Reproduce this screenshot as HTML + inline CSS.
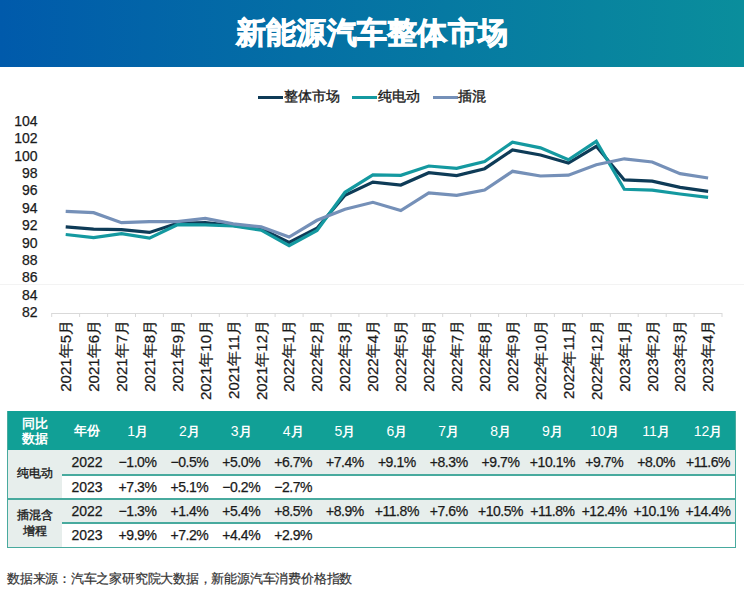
<!DOCTYPE html>
<html><head><meta charset="utf-8"><style>
html,body{margin:0;padding:0;background:#fff;width:744px;height:599px;overflow:hidden;position:relative;font-family:"Liberation Sans",sans-serif;color:#1a1a1a}
.hdr{position:absolute;left:0;top:0;width:744px;height:67px;background:linear-gradient(90deg,#005aab,#0a8e9c)}
.title{position:absolute;left:0;top:0;width:744px;height:67px;line-height:65px;text-align:center;color:#fff;font-size:30px;font-weight:bold;letter-spacing:0.25px;-webkit-text-stroke:0.9px #fff}
.leg{position:absolute;top:87px;height:18px;line-height:18px;font-size:14px;color:#1a1a1a;-webkit-text-stroke:0.35px #1a1a1a}
.leg i{position:absolute;top:9px;width:25px;height:3px}
svg{position:absolute;left:0;top:0}
.yl{font-size:14px;fill:#1a1a1a;stroke:#1a1a1a;stroke-width:0.25px}
.xl{font-size:15px;fill:#1a1a1a;stroke:#1a1a1a;stroke-width:0.25px}
.hd{font-weight:normal;font-size:14px}
.h{position:absolute;text-align:center;color:#fff;font-size:13px;font-weight:bold}
.p{letter-spacing:-0.45px}
.c{position:absolute;text-align:center;font-size:14px;color:#1a1a1a;white-space:nowrap;-webkit-text-stroke:0.25px #1a1a1a}
.b{position:absolute;text-align:center;font-size:12px;color:#1a1a1a;-webkit-text-stroke:0.35px #1a1a1a}
.foot{position:absolute;left:7px;top:570px;font-size:13px;letter-spacing:-0.22px;color:#333;-webkit-text-stroke:0.2px #333;line-height:18px}
</style></head><body>
<div class="hdr"></div>
<div class="title">新能源汽车整体市场</div>
<div class="leg" style="left:258px"><i style="left:0;background:#0e3b57"></i><span style="position:absolute;left:26px;white-space:nowrap">整体市场</span></div>
<div class="leg" style="left:352px"><i style="left:0;background:#1499a0"></i><span style="position:absolute;left:26px;white-space:nowrap">纯电动</span></div>
<div class="leg" style="left:433px"><i style="left:0;background:#7590b8"></i><span style="position:absolute;left:25px;white-space:nowrap">插混</span></div>
<svg width="744" height="410" viewBox="0 0 744 410">
<rect x="0" y="284" width="744" height="1" fill="#f3f3f3"/>
<rect x="51.7" y="313" width="670.3" height="1" fill="#d9d9d9"/>
<rect x="51.2" y="313" width="1" height="4" fill="#d9d9d9"/>
<rect x="79.1" y="313" width="1" height="4" fill="#d9d9d9"/>
<rect x="107.1" y="313" width="1" height="4" fill="#d9d9d9"/>
<rect x="135.0" y="313" width="1" height="4" fill="#d9d9d9"/>
<rect x="162.9" y="313" width="1" height="4" fill="#d9d9d9"/>
<rect x="190.9" y="313" width="1" height="4" fill="#d9d9d9"/>
<rect x="218.8" y="313" width="1" height="4" fill="#d9d9d9"/>
<rect x="246.7" y="313" width="1" height="4" fill="#d9d9d9"/>
<rect x="274.6" y="313" width="1" height="4" fill="#d9d9d9"/>
<rect x="302.6" y="313" width="1" height="4" fill="#d9d9d9"/>
<rect x="330.5" y="313" width="1" height="4" fill="#d9d9d9"/>
<rect x="358.4" y="313" width="1" height="4" fill="#d9d9d9"/>
<rect x="386.4" y="313" width="1" height="4" fill="#d9d9d9"/>
<rect x="414.3" y="313" width="1" height="4" fill="#d9d9d9"/>
<rect x="442.2" y="313" width="1" height="4" fill="#d9d9d9"/>
<rect x="470.1" y="313" width="1" height="4" fill="#d9d9d9"/>
<rect x="498.1" y="313" width="1" height="4" fill="#d9d9d9"/>
<rect x="526.0" y="313" width="1" height="4" fill="#d9d9d9"/>
<rect x="553.9" y="313" width="1" height="4" fill="#d9d9d9"/>
<rect x="581.9" y="313" width="1" height="4" fill="#d9d9d9"/>
<rect x="609.8" y="313" width="1" height="4" fill="#d9d9d9"/>
<rect x="637.7" y="313" width="1" height="4" fill="#d9d9d9"/>
<rect x="665.7" y="313" width="1" height="4" fill="#d9d9d9"/>
<rect x="693.6" y="313" width="1" height="4" fill="#d9d9d9"/>
<rect x="721.5" y="313" width="1" height="4" fill="#d9d9d9"/>
<text x="37.5" y="317.2" text-anchor="end" class="yl">82</text>
<text x="37.5" y="299.8" text-anchor="end" class="yl">84</text>
<text x="37.5" y="282.4" text-anchor="end" class="yl">86</text>
<text x="37.5" y="265.0" text-anchor="end" class="yl">88</text>
<text x="37.5" y="247.6" text-anchor="end" class="yl">90</text>
<text x="37.5" y="230.1" text-anchor="end" class="yl">92</text>
<text x="37.5" y="212.7" text-anchor="end" class="yl">94</text>
<text x="37.5" y="195.3" text-anchor="end" class="yl">96</text>
<text x="37.5" y="177.9" text-anchor="end" class="yl">98</text>
<text x="37.5" y="160.5" text-anchor="end" class="yl">100</text>
<text x="37.5" y="143.1" text-anchor="end" class="yl">102</text>
<text x="37.5" y="125.7" text-anchor="end" class="yl">104</text>
<text transform="translate(71.0,320) rotate(-90)" text-anchor="end" class="xl">2021年5月</text>
<text transform="translate(98.9,320) rotate(-90)" text-anchor="end" class="xl">2021年6月</text>
<text transform="translate(126.8,320) rotate(-90)" text-anchor="end" class="xl">2021年7月</text>
<text transform="translate(154.8,320) rotate(-90)" text-anchor="end" class="xl">2021年8月</text>
<text transform="translate(182.7,320) rotate(-90)" text-anchor="end" class="xl">2021年9月</text>
<text transform="translate(210.6,320) rotate(-90)" text-anchor="end" class="xl">2021年10月</text>
<text transform="translate(238.5,320) rotate(-90)" text-anchor="end" class="xl">2021年11月</text>
<text transform="translate(266.5,320) rotate(-90)" text-anchor="end" class="xl">2021年12月</text>
<text transform="translate(294.4,320) rotate(-90)" text-anchor="end" class="xl">2022年1月</text>
<text transform="translate(322.3,320) rotate(-90)" text-anchor="end" class="xl">2022年2月</text>
<text transform="translate(350.3,320) rotate(-90)" text-anchor="end" class="xl">2022年3月</text>
<text transform="translate(378.2,320) rotate(-90)" text-anchor="end" class="xl">2022年4月</text>
<text transform="translate(406.1,320) rotate(-90)" text-anchor="end" class="xl">2022年5月</text>
<text transform="translate(434.1,320) rotate(-90)" text-anchor="end" class="xl">2022年6月</text>
<text transform="translate(462.0,320) rotate(-90)" text-anchor="end" class="xl">2022年7月</text>
<text transform="translate(489.9,320) rotate(-90)" text-anchor="end" class="xl">2022年8月</text>
<text transform="translate(517.8,320) rotate(-90)" text-anchor="end" class="xl">2022年9月</text>
<text transform="translate(545.8,320) rotate(-90)" text-anchor="end" class="xl">2022年10月</text>
<text transform="translate(573.7,320) rotate(-90)" text-anchor="end" class="xl">2022年11月</text>
<text transform="translate(601.6,320) rotate(-90)" text-anchor="end" class="xl">2022年12月</text>
<text transform="translate(629.6,320) rotate(-90)" text-anchor="end" class="xl">2023年1月</text>
<text transform="translate(657.5,320) rotate(-90)" text-anchor="end" class="xl">2023年2月</text>
<text transform="translate(685.4,320) rotate(-90)" text-anchor="end" class="xl">2023年3月</text>
<text transform="translate(713.4,320) rotate(-90)" text-anchor="end" class="xl">2023年4月</text>
<polyline points="65.7,226.9 93.6,229.2 121.5,229.7 149.5,232.4 177.4,223.3 205.3,222.7 233.2,225.5 261.2,228.9 289.1,242.4 317.0,228.3 345.0,195.2 372.9,182.1 400.8,185.0 428.8,172.7 456.7,175.6 484.6,168.7 512.5,150.0 540.5,155.0 568.4,163.1 596.3,146.3 624.3,179.9 652.2,181.2 680.1,187.4 708.1,191.3" fill="none" stroke="#0e3b57" stroke-width="3.2" stroke-linejoin="miter"/>
<polyline points="65.7,234.5 93.6,237.7 121.5,233.7 149.5,238.2 177.4,224.7 205.3,224.9 233.2,226.0 261.2,230.2 289.1,245.6 317.0,230.5 345.0,192.3 372.9,174.8 400.8,175.3 428.8,166.0 456.7,168.4 484.6,161.5 512.5,142.2 540.5,147.9 568.4,159.8 596.3,141.3 624.3,189.3 652.2,190.2 680.1,194.0 708.1,197.4" fill="none" stroke="#1499a0" stroke-width="3.2" stroke-linejoin="miter"/>
<polyline points="65.7,211.3 93.6,212.7 121.5,222.7 149.5,221.6 177.4,221.7 205.3,218.4 233.2,223.8 261.2,226.9 289.1,237.0 317.0,220.3 345.0,209.2 372.9,202.3 400.8,210.5 428.8,192.8 456.7,195.3 484.6,190.0 512.5,171.3 540.5,176.0 568.4,175.2 596.3,164.7 624.3,158.8 652.2,162.0 680.1,173.7 708.1,178.0" fill="none" stroke="#7590b8" stroke-width="3.2" stroke-linejoin="miter"/>
</svg>
<div style="position:absolute;left:7px;top:411px;width:728px;height:39px;background:#11a096"></div>
<div class="h" style="left:7px;top:417px;width:55.4px;line-height:14.5px">同比<br>数据</div>
<div class="h" style="left:62.4px;top:411px;width:49.2px;height:39px;line-height:39px">年份</div>
<div class="h" style="left:111.6px;top:412px;width:51.86px;height:39px;line-height:39px"><span class="hd">1</span>月</div>
<div class="h" style="left:163.5px;top:412px;width:51.86px;height:39px;line-height:39px"><span class="hd">2</span>月</div>
<div class="h" style="left:215.3px;top:412px;width:51.86px;height:39px;line-height:39px"><span class="hd">3</span>月</div>
<div class="h" style="left:267.2px;top:412px;width:51.86px;height:39px;line-height:39px"><span class="hd">4</span>月</div>
<div class="h" style="left:319.0px;top:412px;width:51.86px;height:39px;line-height:39px"><span class="hd">5</span>月</div>
<div class="h" style="left:370.9px;top:412px;width:51.86px;height:39px;line-height:39px"><span class="hd">6</span>月</div>
<div class="h" style="left:422.8px;top:412px;width:51.86px;height:39px;line-height:39px"><span class="hd">7</span>月</div>
<div class="h" style="left:474.6px;top:412px;width:51.86px;height:39px;line-height:39px"><span class="hd">8</span>月</div>
<div class="h" style="left:526.5px;top:412px;width:51.86px;height:39px;line-height:39px"><span class="hd">9</span>月</div>
<div class="h" style="left:578.3px;top:412px;width:51.86px;height:39px;line-height:39px"><span class="hd">10</span>月</div>
<div class="h" style="left:630.2px;top:412px;width:51.86px;height:39px;line-height:39px"><span class="hd">11</span>月</div>
<div class="h" style="left:682.1px;top:412px;width:51.86px;height:39px;line-height:39px"><span class="hd">12</span>月</div>
<div style="position:absolute;left:7px;top:450px;width:728px;height:24.5px;background:#e7eeec"></div>
<div style="position:absolute;left:7px;top:450px;width:55.4px;height:49px;background:#e7eeec"></div>
<div style="position:absolute;left:7px;top:499px;width:728px;height:24px;background:#e7eeec"></div>
<div style="position:absolute;left:7px;top:499px;width:55.4px;height:48.5px;background:#e7eeec"></div>
<div style="position:absolute;left:62.4px;top:473.5px;width:672.6px;height:2px;background:#48aa9e"></div>
<div style="position:absolute;left:62.4px;top:522px;width:672.6px;height:2px;background:#48aa9e"></div>
<div style="position:absolute;left:7px;top:498px;width:728px;height:2px;background:#48aa9e"></div>
<div style="position:absolute;left:6.5px;top:411px;width:727px;height:135.5px;border:1.5px solid #48aa9e;border-top:none"></div>
<div class="b" style="left:7px;top:450px;width:55.4px;height:49px;line-height:47px">纯电动</div>
<div class="b" style="left:7px;top:508px;width:55.4px;line-height:15.5px">插混含<br>增程</div>
<div class="c" style="left:62.4px;top:450px;width:49.2px;height:24.5px;line-height:24.5px">2022</div>
<div class="c p" style="left:111.6px;top:450px;width:51.86px;height:24.5px;line-height:24.5px">−1.0%</div><div class="c p" style="left:163.5px;top:450px;width:51.86px;height:24.5px;line-height:24.5px">−0.5%</div><div class="c p" style="left:215.3px;top:450px;width:51.86px;height:24.5px;line-height:24.5px">+5.0%</div><div class="c p" style="left:267.2px;top:450px;width:51.86px;height:24.5px;line-height:24.5px">+6.7%</div><div class="c p" style="left:319.0px;top:450px;width:51.86px;height:24.5px;line-height:24.5px">+7.4%</div><div class="c p" style="left:370.9px;top:450px;width:51.86px;height:24.5px;line-height:24.5px">+9.1%</div><div class="c p" style="left:422.8px;top:450px;width:51.86px;height:24.5px;line-height:24.5px">+8.3%</div><div class="c p" style="left:474.6px;top:450px;width:51.86px;height:24.5px;line-height:24.5px">+9.7%</div><div class="c p" style="left:526.5px;top:450px;width:51.86px;height:24.5px;line-height:24.5px">+10.1%</div><div class="c p" style="left:578.3px;top:450px;width:51.86px;height:24.5px;line-height:24.5px">+9.7%</div><div class="c p" style="left:630.2px;top:450px;width:51.86px;height:24.5px;line-height:24.5px">+8.0%</div><div class="c p" style="left:682.1px;top:450px;width:51.86px;height:24.5px;line-height:24.5px">+11.6%</div>
<div class="c" style="left:62.4px;top:474.5px;width:49.2px;height:24.5px;line-height:24.5px">2023</div>
<div class="c p" style="left:111.6px;top:474.5px;width:51.86px;height:24.5px;line-height:24.5px">+7.3%</div><div class="c p" style="left:163.5px;top:474.5px;width:51.86px;height:24.5px;line-height:24.5px">+5.1%</div><div class="c p" style="left:215.3px;top:474.5px;width:51.86px;height:24.5px;line-height:24.5px">−0.2%</div><div class="c p" style="left:267.2px;top:474.5px;width:51.86px;height:24.5px;line-height:24.5px">−2.7%</div><div class="c p" style="left:319.0px;top:474.5px;width:51.86px;height:24.5px;line-height:24.5px"></div><div class="c p" style="left:370.9px;top:474.5px;width:51.86px;height:24.5px;line-height:24.5px"></div><div class="c p" style="left:422.8px;top:474.5px;width:51.86px;height:24.5px;line-height:24.5px"></div><div class="c p" style="left:474.6px;top:474.5px;width:51.86px;height:24.5px;line-height:24.5px"></div><div class="c p" style="left:526.5px;top:474.5px;width:51.86px;height:24.5px;line-height:24.5px"></div><div class="c p" style="left:578.3px;top:474.5px;width:51.86px;height:24.5px;line-height:24.5px"></div><div class="c p" style="left:630.2px;top:474.5px;width:51.86px;height:24.5px;line-height:24.5px"></div><div class="c p" style="left:682.1px;top:474.5px;width:51.86px;height:24.5px;line-height:24.5px"></div>
<div class="c" style="left:62.4px;top:499px;width:49.2px;height:24px;line-height:24px">2022</div>
<div class="c p" style="left:111.6px;top:499px;width:51.86px;height:24px;line-height:24px">−1.3%</div><div class="c p" style="left:163.5px;top:499px;width:51.86px;height:24px;line-height:24px">+1.4%</div><div class="c p" style="left:215.3px;top:499px;width:51.86px;height:24px;line-height:24px">+5.4%</div><div class="c p" style="left:267.2px;top:499px;width:51.86px;height:24px;line-height:24px">+8.5%</div><div class="c p" style="left:319.0px;top:499px;width:51.86px;height:24px;line-height:24px">+8.9%</div><div class="c p" style="left:370.9px;top:499px;width:51.86px;height:24px;line-height:24px">+11.8%</div><div class="c p" style="left:422.8px;top:499px;width:51.86px;height:24px;line-height:24px">+7.6%</div><div class="c p" style="left:474.6px;top:499px;width:51.86px;height:24px;line-height:24px">+10.5%</div><div class="c p" style="left:526.5px;top:499px;width:51.86px;height:24px;line-height:24px">+11.8%</div><div class="c p" style="left:578.3px;top:499px;width:51.86px;height:24px;line-height:24px">+12.4%</div><div class="c p" style="left:630.2px;top:499px;width:51.86px;height:24px;line-height:24px">+10.1%</div><div class="c p" style="left:682.1px;top:499px;width:51.86px;height:24px;line-height:24px">+14.4%</div>
<div class="c" style="left:62.4px;top:523px;width:49.2px;height:24.5px;line-height:24.5px">2023</div>
<div class="c p" style="left:111.6px;top:523px;width:51.86px;height:24.5px;line-height:24.5px">+9.9%</div><div class="c p" style="left:163.5px;top:523px;width:51.86px;height:24.5px;line-height:24.5px">+7.2%</div><div class="c p" style="left:215.3px;top:523px;width:51.86px;height:24.5px;line-height:24.5px">+4.4%</div><div class="c p" style="left:267.2px;top:523px;width:51.86px;height:24.5px;line-height:24.5px">+2.9%</div><div class="c p" style="left:319.0px;top:523px;width:51.86px;height:24.5px;line-height:24.5px"></div><div class="c p" style="left:370.9px;top:523px;width:51.86px;height:24.5px;line-height:24.5px"></div><div class="c p" style="left:422.8px;top:523px;width:51.86px;height:24.5px;line-height:24.5px"></div><div class="c p" style="left:474.6px;top:523px;width:51.86px;height:24.5px;line-height:24.5px"></div><div class="c p" style="left:526.5px;top:523px;width:51.86px;height:24.5px;line-height:24.5px"></div><div class="c p" style="left:578.3px;top:523px;width:51.86px;height:24.5px;line-height:24.5px"></div><div class="c p" style="left:630.2px;top:523px;width:51.86px;height:24.5px;line-height:24.5px"></div><div class="c p" style="left:682.1px;top:523px;width:51.86px;height:24.5px;line-height:24.5px"></div>
<div class="foot">数据来源：汽车之家研究院大数据，新能源汽车消费价格指数</div>
</body></html>
